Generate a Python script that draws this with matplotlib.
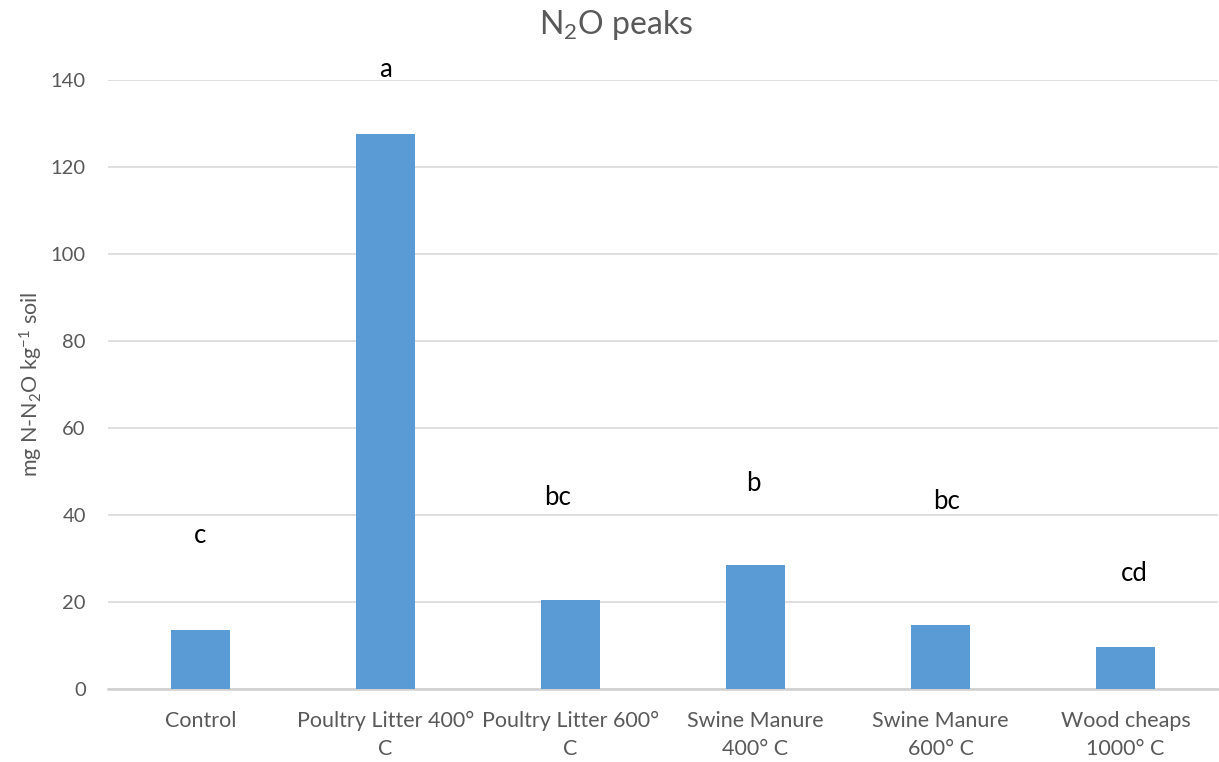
import matplotlib
matplotlib.use("Agg")
import matplotlib.pyplot as plt

plt.rcParams['font.family'] = ['Lato', 'DejaVu Sans']
plt.rcParams['mathtext.fontset'] = 'custom'
plt.rcParams['mathtext.rm'] = 'Lato'
plt.rcParams['mathtext.it'] = 'Lato'

# Treatments and peak N2O values
categories = ["Control", "Poultry Litter 400°\nC", "Poultry Litter 600°\nC",
              "Swine Manure\n400° C", "Swine Manure\n600° C", "Wood cheaps\n1000° C"]
peaks = [13.6, 127.6, 20.5, 28.5, 14.8, 9.7]
letters = ["c", "a", "bc", "b", "bc", "cd"]

# where the significance letters sit (x offset from category, y in data units)
letter_dx = [0.0, 0.0, -0.07, -0.01, 0.03, 0.05]
letter_y = [35.3, 142.5, 44.1, 47.3, 43.2, 26.6]
y_ticks = [0, 20, 40, 60, 80, 100, 120, 140]

gray = "#595959"
fig = plt.figure(figsize=(12.19, 7.62), dpi=100)
ax = fig.add_axes([0.0886, 0.0958, 0.9106, 0.7992])

x = list(range(len(categories)))
ax.bar(x, peaks, width=0.32, color="#5b9bd5", zorder=3)

for xi, dx, y, t in zip(x, letter_dx, letter_y, letters):
    ax.text(xi + dx, y, t, ha="center", va="center", fontsize=18.5, color="black", zorder=4)

ax.set_xlim(-0.5, len(categories) - 0.5)
ax.set_ylim(0, 140)
ax.set_yticks(y_ticks)
ax.set_yticklabels([str(v) for v in y_ticks], fontsize=14.5, color=gray)
ax.set_xticks(x)
ax.set_xticklabels(categories, fontsize=15.5, color=gray, linespacing=1.5)
ax.tick_params(axis="both", length=0)
ax.tick_params(axis="x", pad=16)
ax.tick_params(axis="y", pad=16)

ax.grid(axis="y", color="#d9d9d9", linewidth=1.2, zorder=0)
ax.set_axisbelow(True)
for s in ["top", "right", "left"]:
    ax.spines[s].set_visible(False)
ax.spines["bottom"].set_color("#d0d0d0")
ax.spines["bottom"].set_linewidth(1.8)
ax.spines["bottom"].set_zorder(2)

ax.set_ylabel(r"mg N-N$_\mathregular{2}$O kg$^\mathregular{-1}$ soil", fontsize=15.5, color=gray, labelpad=4)
fig.text(0.505, 0.967, r"N$_\mathregular{2}$O peaks", ha="center", va="center", fontsize=23, color=gray)

fig.savefig("out.png", dpi=100)
